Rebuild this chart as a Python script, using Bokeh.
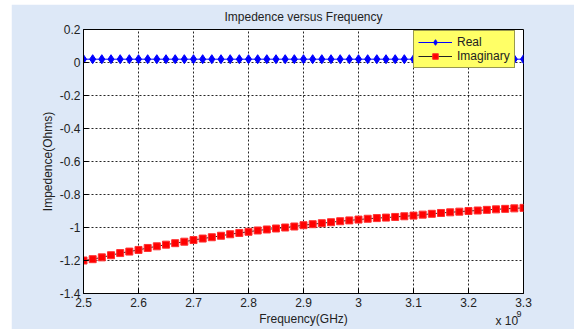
from bokeh.plotting import figure
from bokeh.models import Range1d, FixedTicker, CustomJSTickFormatter, Label, Spacer
from bokeh.layouts import row, column
from bokeh.embed import file_html
from bokeh.resources import INLINE

freq_ghz = [2.5000, 2.5167, 2.5333, 2.5500, 2.5667, 2.5833, 2.6000, 2.6167, 2.6333, 2.6500,
            2.6667, 2.6833, 2.7000, 2.7167, 2.7333, 2.7500, 2.7667, 2.7833, 2.8000, 2.8167,
            2.8333, 2.8500, 2.8667, 2.8833, 2.9000, 2.9167, 2.9333, 2.9500, 2.9667, 2.9833,
            3.0000, 3.0167, 3.0333, 3.0500, 3.0667, 3.0833, 3.1000, 3.1167, 3.1333, 3.1500,
            3.1667, 3.1833, 3.2000, 3.2167, 3.2333, 3.2500, 3.2667, 3.2833, 3.3000]

real_ohms = [0.02, 0.02, 0.02, 0.02, 0.02, 0.02, 0.02, 0.02, 0.02, 0.02,
             0.02, 0.02, 0.02, 0.02, 0.02, 0.02, 0.02, 0.02, 0.02, 0.02,
             0.02, 0.02, 0.02, 0.02, 0.02, 0.02, 0.02, 0.02, 0.02, 0.02,
             0.02, 0.02, 0.02, 0.02, 0.02, 0.02, 0.02, 0.02, 0.02, 0.02,
             0.02, 0.02, 0.02, 0.02, 0.02, 0.02, 0.02, 0.02, 0.02]

imag_ohms = [-1.200, -1.192, -1.181, -1.168, -1.155, -1.146, -1.136, -1.124, -1.114, -1.104,
             -1.095, -1.086, -1.076, -1.067, -1.059, -1.050, -1.041, -1.033, -1.026, -1.018,
             -1.012, -1.006, -1.000, -0.994, -0.986, -0.980, -0.974, -0.968, -0.962, -0.957,
             -0.952, -0.947, -0.943, -0.940, -0.936, -0.932, -0.928, -0.922, -0.917, -0.912,
             -0.908, -0.904, -0.900, -0.897, -0.893, -0.890, -0.887, -0.884, -0.881]

x_ticks = [2.5, 2.6, 2.7, 2.8, 2.9, 3.0, 3.1, 3.2, 3.3]
y_ticks = [-1.4, -1.2, -1.0, -0.8, -0.6, -0.4, -0.2, 0.0, 0.2]

FONT = "Liberation Sans"
TXT = "#222222"
BG = "#dde8f7"

p = figure(width=563, height=325, output_backend="svg", toolbar_location=None,
           x_range=Range1d(2.5, 3.3), y_range=Range1d(-1.4, 0.2),
           min_border_left=72, min_border_right=51, min_border_top=23, min_border_bottom=36)
p.border_fill_color = BG
p.background_fill_color = "white"
p.outline_line_color = "black"
p.outline_line_width = 1

p.title.text = "Impedence versus Frequency"
p.title.align = "center"
p.title.vertical_align = "middle"
p.title.text_font = FONT
p.title.text_font_size = "12px"
p.title.text_font_style = "normal"
p.title.text_color = TXT
p.title.standoff = 9

fmt = CustomJSTickFormatter(code="return (Math.round(tick*10)/10).toString();")
for ax, ticks in ((p.xaxis[0], x_ticks), (p.yaxis[0], y_ticks)):
    ax.ticker = FixedTicker(ticks=ticks, minor_ticks=[])
    ax.formatter = fmt
    ax.major_tick_in = 5
    ax.major_tick_out = 0
    ax.minor_tick_in = 0
    ax.minor_tick_out = 0
    ax.axis_line_color = "black"
    ax.major_tick_line_color = "black"
    ax.major_label_text_font = FONT
    ax.major_label_text_font_size = "12px"
    ax.major_label_text_color = TXT
    ax.axis_label_text_font = FONT
    ax.axis_label_text_font_size = "12px"
    ax.axis_label_text_font_style = "normal"
    ax.axis_label_text_color = TXT

p.xaxis[0].major_label_standoff = 4
p.xaxis[0].axis_label = "Frequency(GHz)"
p.xaxis[0].axis_label_standoff = 2
p.yaxis[0].major_label_standoff = 3
p.yaxis[0].axis_label = "Impedence(Ohms)"
p.yaxis[0].axis_label_standoff = 2

for g in (p.xgrid[0], p.ygrid[0]):
    g.grid_line_color = "black"
    g.grid_line_dash = "2 2"
    g.grid_line_alpha = 0.85
    g.grid_line_width = 1

p.line(freq_ghz, real_ohms, line_color="blue", line_width=1, legend_label="Real")
p.scatter(freq_ghz, real_ohms, marker="diamond", size=9, fill_color="blue",
          line_color="blue", legend_label="Real")
p.line(freq_ghz, imag_ohms, line_color="#222222", line_width=1, legend_label="Imaginary")
p.scatter(freq_ghz, imag_ohms, marker="square", size=7, fill_color="red",
          line_color="#ff3030", legend_label="Imaginary")

lg = p.legend[0]
lg.location = (330, 225)
lg.margin = 0
lg.padding = 4
lg.spacing = 0
lg.glyph_width = 34
lg.glyph_height = 14
lg.label_height = 14
lg.label_standoff = 5
lg.label_text_font = FONT
lg.label_text_font_size = "12px"
lg.label_text_color = TXT
lg.background_fill_color = "#ffff66"
lg.background_fill_alpha = 1
lg.border_line_color = "#333333"
lg.border_line_width = 1

p.add_layout(Label(x=-28, y=-27, x_units="screen", y_units="screen",
                   text="x 10", text_align="left", text_baseline="middle",
                   text_font=FONT, text_font_size="12px", text_color=TXT), "right")
p.add_layout(Label(x=-30, y=-20, x_units="screen", y_units="screen",
                   text="9", text_align="left", text_baseline="middle",
                   text_font=FONT, text_font_size="9px", text_color=TXT), "right")

layout = row(Spacer(width=11, height=329),
             column(Spacer(width=563, height=4), p, spacing=0), spacing=0)

open("out.html", "w").write(file_html(layout, INLINE))
